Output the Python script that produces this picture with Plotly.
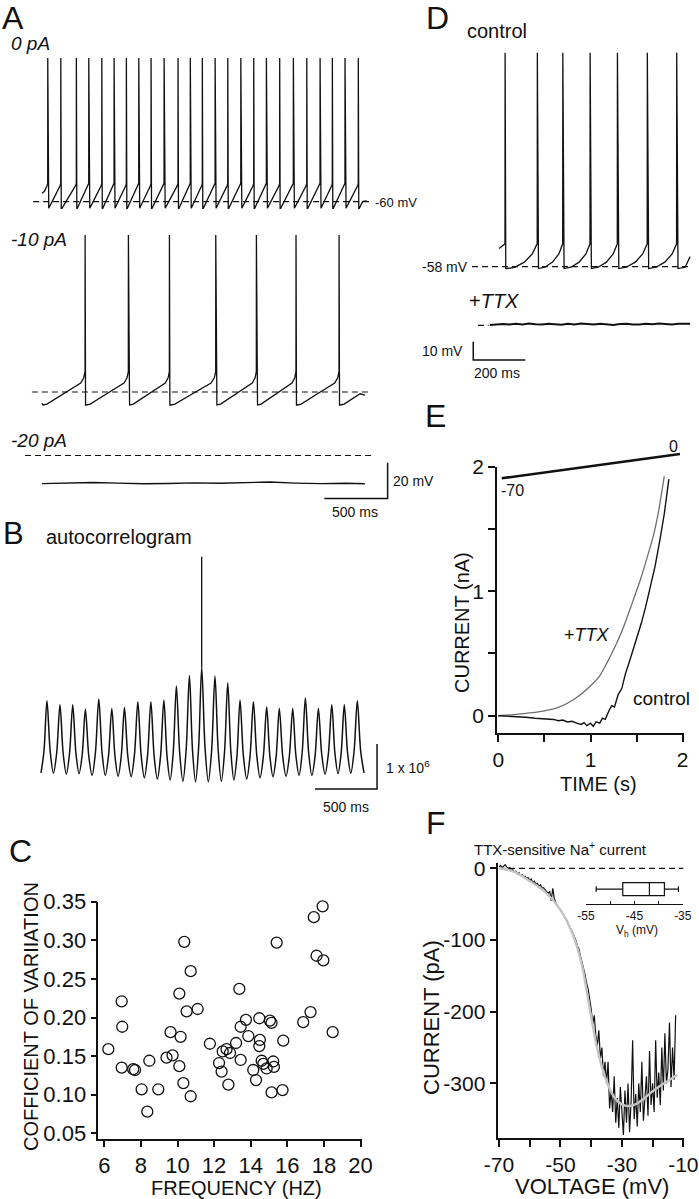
import plotly.graph_objects as go

W, H = 699, 1199
FONT = "Liberation Sans, Arial, sans-serif"
INK = "#111111"

# ------------------------------------------------------------------ data
A0_SPIKES = [45, 148, 271, 369, 472, 569, 666, 764, 861, 964, 1074, 1171, 1266,
             1367, 1467, 1570, 1672, 1772, 1877, 1985, 2091, 2196, 2293, 2393, 2498]
A0_START = (0, -55.3)
A0_END = (2565, -59.5)
A0_LEVELS = dict(thr=-49.7, peak=20.7, trough=-63.7)
A0_RAMP_FRAC = [0.08, 0.35, 0.75, 0.95]
A0_RAMP_V = [-63.7, -59.8, -54.2, -51.0]
A0_DASH_T = [-70, 2590]

A10_SPIKES = [340, 682, 1006, 1372, 1693, 2006, 2346]
A10_START = (0, -66.3)
A10_END = (2550, -61.7)
A10_LEVELS = dict(thr=-48.6, peak=28.2, trough=-67.3)
A10_RAMP_FRAC = [0.03, 0.12, 0.5, 0.9, 0.97]
A10_RAMP_V = [-67.3, -66.8, -61.0, -55.0, -52.0]
A10_DASH_T = [-80, 2590]

A20_T = [0, 200, 400, 600, 800, 1000, 1200, 1400, 1600, 1800, 2000, 2200, 2400, 2550]
A20_V = [-75.8, -75.6, -75.2, -75.5, -75.9, -75.7, -75.4, -75.6, -75.3, -74.9,
         -75.5, -75.8, -75.6, -75.9]
A20_DASH_T = [-134, 2630]
REST_MV = -60
A_BAR_MS, A_BAR_MV = 500, 20

B_PEAK_LAG = [-1248, -1143, -1040, -938, -830, -725, -623, -515, -410, -305, -204, -99, 0,
              107, 210, 309, 417, 524, 626, 734, 836, 941, 1049, 1150, 1255]
B_PEAK_H = [1.96, 1.87, 1.87, 1.77, 2.00, 1.79, 1.81, 1.94, 1.94, 1.98, 2.29, 2.52, 2.70,
            2.51, 2.36, 1.98, 1.94, 1.82, 1.79, 1.79, 2.02, 1.79, 1.87, 1.87, 1.96]
B_TROUGH = [0.36, 0.35, 0.33, 0.34, 0.30, 0.30, 0.28, 0.27, 0.25, 0.22, 0.20, 0.17, 0.16,
            0.16, 0.17, 0.20, 0.22, 0.25, 0.27, 0.28, 0.30, 0.30, 0.33, 0.34, 0.35, 0.36]
B_START_LAG, B_END_LAG = -1296, 1309
B_CENTER_SPIKE = 5.16
B_FLANK_FRAC = 0.30
B_BAR_MS, B_BAR_COUNT = 500, 1

C_FREQ = [6.22, 6.95, 6.98, 6.95, 7.58, 7.68, 8.04, 8.46, 8.35, 8.95, 9.40, 9.62, 9.73,
          10.10, 10.17, 10.10, 10.37, 10.50, 10.32, 10.72, 10.72, 11.10, 11.77, 12.27,
          12.41, 12.47, 12.68, 12.78, 12.87, 13.20, 13.38, 13.45, 13.45, 13.74, 13.87,
          14.14, 14.29, 14.47, 14.50, 14.47, 14.60, 14.69, 14.87, 15.05, 15.14, 15.23,
          15.27, 15.14, 15.42, 15.78, 15.74, 16.87, 17.27, 17.45, 17.93, 17.60, 17.97, 18.48]
C_CV = [0.159, 0.221, 0.188, 0.135, 0.133, 0.132, 0.107, 0.144, 0.078, 0.107, 0.148, 0.181,
        0.151, 0.231, 0.175, 0.137, 0.298, 0.208, 0.115, 0.260, 0.098, 0.211, 0.166, 0.141,
        0.130, 0.156, 0.159, 0.113, 0.154, 0.167, 0.237, 0.188, 0.145, 0.197, 0.176, 0.132,
        0.119, 0.199, 0.171, 0.163, 0.144, 0.140, 0.134, 0.196, 0.193, 0.143, 0.136, 0.103,
        0.297, 0.170, 0.106, 0.194, 0.207, 0.330, 0.344, 0.280, 0.274, 0.181]

D_SPIKES = [23, 147, 245, 350, 455, 570, 683]
D_START = (0, -48.0)
D_END = (735, -52.5)
D_LEVELS = dict(thr=-45.5, peak=58.9, trough=-59.0)
D_RAMP_FRAC = [0.05, 0.3, 0.6, 0.85, 0.97]
D_RAMP_V = [-59.0, -58.3, -55.5, -51.0, -46.5]
D_DASH_T = [-104, 735]
D_REST_MV = -58
D_TTX_T = [-35, -10, 15, 40, 65, 90, 115, 140, 165, 190, 215, 240, 265, 290, 315, 340,
           365, 390, 415, 440, 465, 490, 515, 540, 565, 590, 615, 640, 665, 690, 715, 735]
D_TTX_V = [-57.8, -57.5, -57.3, -57.6, -57.2, -57.5, -57.0, -57.4, -57.6, -57.1, -57.3,
           -57.7, -57.2, -57.5, -57.0, -57.3, -57.6, -57.2, -57.4, -57.8, -57.3, -57.1,
           -57.5, -57.6, -57.2, -57.4, -57.0, -57.3, -57.6, -57.1, -57.3, -57.2]
D_TTX_DASH_T = [-81, -40]
D_BAR_MS, D_BAR_MV = 200, 10

E_RAMP_T = [0.037, 1.97]
E_RAMP_MV = [-70, 0]
E_T_CTL = [0, 0.1, 0.2, 0.3, 0.4, 0.5, 0.6, 0.65, 0.7, 0.75, 0.8, 0.85, 0.9, 0.93, 0.96,
           1.0, 1.03, 1.06, 1.1, 1.13, 1.16, 1.2, 1.23, 1.26, 1.3, 1.34, 1.38, 1.42, 1.46,
           1.5, 1.55, 1.6, 1.65, 1.7, 1.75, 1.8, 1.85]
E_I_CTL = [0, -0.003, -0.008, -0.012, -0.02, -0.025, -0.03, -0.04, -0.035, -0.05, -0.045,
           -0.06, -0.07, -0.055, -0.08, -0.06, -0.085, -0.05, -0.06, -0.02, -0.03, 0.04,
           0.08, 0.07, 0.17, 0.22, 0.34, 0.43, 0.52, 0.61, 0.74, 0.88, 1.03, 1.2, 1.4,
           1.62, 1.9]
E_T_TTX = [0, 0.2, 0.45, 0.63, 0.81, 0.99, 1.1, 1.175, 1.27, 1.36, 1.45, 1.54, 1.61,
           1.68, 1.74, 1.8]
E_I_TTX = [0, 0.01, 0.032, 0.06, 0.126, 0.233, 0.32, 0.42, 0.56, 0.715, 0.9, 1.09, 1.26,
           1.44, 1.65, 1.925]

F_V_START, F_V_STEP = -70.0, 0.5
F_I = [2, 4, 1, 3, 5, 2, 0, 1, -3, -2,
       -5, -4, -8, -6, -10, -9, -12, -11, -14, -13,
       -17, -15, -20, -18, -22, -21, -25, -23, -28, -27,
       -30, -33, -35, -32, -45, -28, -42, -48, -52, -55,
       -58, -62, -65, -70, -72, -78, -82, -85, -90, -96,
       -100, -108, -112, -122, -130, -140, -148, -160, -168, -182,
       -196, -218, -205, -232, -248, -226, -265, -250, -290, -270,
       -300, -270, -335, -310, -340, -290, -355, -320, -362, -305,
       -340, -372, -310, -355, -300, -368, -325, -240, -350, -315,
       -360, -300, -340, -270, -352, -318, -290, -345, -255, -330,
       -300, -340, -240, -320, -285, -330, -250, -310, -230, -300,
       -280, -215, -305, -250, -295, -205]
F_FIT_V = [-70, -65, -60, -55, -50, -46, -43, -40.5, -38, -35, -32, -29, -26, -23, -20,
           -17, -14, -12]
F_FIT_I = [0, -5, -18, -33, -58, -92, -135, -195, -252, -297, -322, -331, -330, -322,
           -311, -302, -294, -288]
F_ZERO_V = [-70, -10]
VH_STATS = dict(lowerfence=-52.9, q1=-47.4, median=-41.9, q3=-38.8, upperfence=-35.9)

# tick labels
C_XTICKS = [6, 8, 10, 12, 14, 16, 18, 20]
C_YTICKS = [0.05, 0.10, 0.15, 0.20, 0.25, 0.30, 0.35]
E_TICKS, E_MINOR = [0, 1, 2], [0.5, 1.5]
F_XTICKS, F_XMINOR = [-70, -50, -30, -10], [-60, -40, -20]
F_YTICKS = [0, -100, -200, -300]
VH_TICKS, VH_MINOR = [-55, -45, -35], [-50, -40]

# ------------------------------------------------------------------ helpers
def xdom(p0, p1):
    return [p0 / W, p1 / W]


def ydom(top, bot):
    return [1 - bot / H, 1 - top / H]


def xrange_(p0, p1, ref_px, ref_val, ppu):
    return [ref_val + (p0 - ref_px) / ppu, ref_val + (p1 - ref_px) / ppu]


def yrange_(top, bot, ref_px, ref_val, ppu):
    return [ref_val - (bot - ref_px) / ppu, ref_val + (ref_px - top) / ppu]


def spike_train(start, end, spikes, lv, ramp_frac, ramp_v, trough_dt=4, prefix=True):
    isis = [b - a for a, b in zip(spikes[:-1], spikes[1:])]
    mean_isi = sum(isis) / len(isis)
    t, v = [start[0]], [start[1]]
    if prefix:
        for f, rv in zip(ramp_frac, ramp_v):
            tt = spikes[0] - (1 - f) * isis[0]
            if tt > start[0] + 2:
                t.append(tt)
                v.append(rv)
    for i, s in enumerate(spikes):
        t += [s, s + 0.5, s + trough_dt]
        v += [lv["thr"], lv["peak"], lv["trough"]]
        isi = isis[i] if i < len(isis) else mean_isi
        for f, rv in zip(ramp_frac, ramp_v):
            tt = s + f * isi
            if i == len(spikes) - 1 and tt >= end[0]:
                break
            t.append(tt)
            v.append(rv)
    t.append(end[0])
    v.append(end[1])
    return t, v


fig = go.Figure()
axes = {}


def add_axes(n, xd, yd, xr, yr, visible=False):
    xs = "xaxis" if n == 1 else f"xaxis{n}"
    ys = "yaxis" if n == 1 else f"yaxis{n}"
    base = dict(showgrid=False, zeroline=False, fixedrange=True, automargin=False)
    xa = dict(base, domain=xd, range=xr, anchor="y" if n == 1 else f"y{n}", visible=visible)
    ya = dict(base, domain=yd, range=yr, anchor="x" if n == 1 else f"x{n}", visible=visible)
    axes[xs] = xa
    axes[ys] = ya
    return ("x" if n == 1 else f"x{n}", "y" if n == 1 else f"y{n}")


def line(ax, x, y, width=1.3, color=INK, dash=None, shape="linear", smoothing=1):
    fig.add_trace(go.Scatter(x=x, y=y, mode="lines", xaxis=ax[0], yaxis=ax[1],
                             line=dict(color=color, width=width, dash=dash, shape=shape,
                                       smoothing=smoothing),
                             hoverinfo="skip", showlegend=False))


DASH = "6px,4px"

# ------------------------------------------------------------------ panel A
A_PPU_X, A_REF_X = 0.1266, 42
A_PPU_Y = 1.78
ax_a0 = add_axes(1, xdom(15, 400), ydom(45, 215), xrange_(15, 400, A_REF_X, 0, A_PPU_X),
                 yrange_(45, 215, 201.7, REST_MV, A_PPU_Y))
ax_a1 = add_axes(2, xdom(15, 400), ydom(225, 415), xrange_(15, 400, A_REF_X, 0, A_PPU_X),
                 yrange_(225, 415, 392, REST_MV, A_PPU_Y))
ax_a2 = add_axes(3, xdom(15, 400), ydom(445, 520), xrange_(15, 400, A_REF_X, 0, A_PPU_X),
                 yrange_(445, 520, 455.5, REST_MV, A_PPU_Y))

line(ax_a0, A0_DASH_T, [REST_MV, REST_MV], width=1.2, dash=DASH)
t, v = spike_train(A0_START, A0_END, A0_SPIKES, A0_LEVELS, A0_RAMP_FRAC, A0_RAMP_V)
line(ax_a0, t, v)
line(ax_a1, A10_DASH_T, [REST_MV, REST_MV], width=1.2, dash=DASH)
t, v = spike_train(A10_START, A10_END, A10_SPIKES, A10_LEVELS, A10_RAMP_FRAC, A10_RAMP_V)
line(ax_a1, t, v)
line(ax_a2, A20_DASH_T, [REST_MV, REST_MV], width=1.2, dash=DASH)
line(ax_a2, A20_T, A20_V, width=1.4)
A_BAR_T1, A_BAR_V0 = 2730, -84.1
line(ax_a2, [A_BAR_T1 - A_BAR_MS, A_BAR_T1, A_BAR_T1],
     [A_BAR_V0, A_BAR_V0, A_BAR_V0 + A_BAR_MV], width=1.5)

# ------------------------------------------------------------------ panel B
ax_b = add_axes(4, xdom(35, 400), ydom(545, 815),
                xrange_(35, 400, 201.7, 0, 0.124), yrange_(545, 815, 789, 0, 45))
bx, by = [B_START_LAG], [B_TROUGH[0]]
prev_lag, prev_tr = B_START_LAG, B_TROUGH[0]
for i, (lag, h) in enumerate(zip(B_PEAK_LAG, B_PEAK_H)):
    bx.append((prev_lag + lag) / 2)
    by.append(prev_tr + B_FLANK_FRAC * (h - prev_tr))
    bx.append(lag)
    by.append(h)
    nxt_lag = (lag + B_PEAK_LAG[i + 1]) / 2 if i < len(B_PEAK_LAG) - 1 else B_END_LAG
    nxt_tr = B_TROUGH[i + 1]
    bx.append((lag + nxt_lag) / 2)
    by.append(nxt_tr + B_FLANK_FRAC * (h - nxt_tr))
    bx.append(nxt_lag)
    by.append(nxt_tr)
    prev_lag, prev_tr = nxt_lag, nxt_tr
line(ax_b, bx, by, width=1.5, shape="spline", smoothing=0.9)
line(ax_b, [0, 0], [B_PEAK_H[12], B_CENTER_SPIKE], width=1.3)
B_BAR_T1, B_BAR_V0 = 1414, 0
line(ax_b, [B_BAR_T1 - B_BAR_MS, B_BAR_T1, B_BAR_T1],
     [B_BAR_V0, B_BAR_V0, B_BAR_V0 + B_BAR_COUNT], width=1.5)

# ------------------------------------------------------------------ panel C
ax_c = add_axes(5, xdom(98.3, 362), ydom(901.7, 1139.3),
                xrange_(98.3, 362, 104.3, 6, 18.3), yrange_(901.7, 1139.3, 901.7, 0.35, 772),
                visible=True)
fig.add_trace(go.Scatter(x=C_FREQ, y=C_CV, mode="markers", xaxis=ax_c[0], yaxis=ax_c[1],
                         marker=dict(symbol="circle-open", size=11, color=INK,
                                     line=dict(width=1.3, color=INK)),
                         hoverinfo="skip", showlegend=False, cliponaxis=False))

# ------------------------------------------------------------------ panel D
D_PPU_X, D_REF_X, D_PPU_Y = 0.26, 499, 1.83
ax_d1 = add_axes(6, xdom(465, 699), ydom(40, 280), xrange_(465, 699, D_REF_X, 0, D_PPU_X),
                 yrange_(40, 280, 266.7, D_REST_MV, D_PPU_Y))
ax_d2 = add_axes(7, xdom(465, 699), ydom(290, 400), xrange_(465, 699, D_REF_X, 0, D_PPU_X),
                 yrange_(290, 400, 325.3, D_REST_MV, D_PPU_Y))
line(ax_d1, D_DASH_T, [D_REST_MV, D_REST_MV], width=1.3, dash=DASH)
t, v = spike_train(D_START, D_END, D_SPIKES, D_LEVELS, D_RAMP_FRAC, D_RAMP_V,
                   trough_dt=3, prefix=False)
line(ax_d1, t, v)
line(ax_d2, D_TTX_DASH_T, [D_REST_MV, D_REST_MV], width=1.3, dash=DASH)
line(ax_d2, D_TTX_T, D_TTX_V, width=2.0)
D_BAR_T0, D_BAR_V0 = -99, -77
line(ax_d2, [D_BAR_T0, D_BAR_T0, D_BAR_T0 + D_BAR_MS],
     [D_BAR_V0 + D_BAR_MV, D_BAR_V0, D_BAR_V0], width=1.5)

# ------------------------------------------------------------------ panel E
E_X0, E_X1 = 497, 684
ax_er = add_axes(8, xdom(E_X0, E_X1), ydom(440, 490), xrange_(E_X0, E_X1, 498.3, 0, 92.2),
                 yrange_(440, 490, 478.3, -70, 0.347))
line(ax_er, E_RAMP_T, E_RAMP_MV, width=2.6)
ax_e = add_axes(9, xdom(E_X0, E_X1), ydom(466.7, 733.3), xrange_(E_X0, E_X1, 498.3, 0, 92.2),
                yrange_(466.7, 733.3, 715.7, 0, 124.5), visible=True)
line(ax_e, E_T_TTX, E_I_TTX, width=1.3, color="#6e6e6e", shape="spline", smoothing=0.6)
line(ax_e, E_T_CTL, E_I_CTL, width=1.4)

# ------------------------------------------------------------------ panel F
ax_f = add_axes(10, xdom(498.3, 684), ydom(862.6, 1138.3),
                xrange_(498.3, 684, 499, -70, 3.072), yrange_(862.6, 1138.3, 868.3, 0, 0.717),
                visible=True)
F_V = [F_V_START + F_V_STEP * i for i in range(len(F_I))]
line(ax_f, F_ZERO_V, [0, 0], width=1.3, dash=DASH)
line(ax_f, F_V, F_I, width=1.2)
line(ax_f, F_FIT_V, F_FIT_I, width=2.4, color="#c4c4c4", shape="spline", smoothing=0.8)

ax_fi = add_axes(11, xdom(586, 683), ydom(874, 904.3),
                 xrange_(586, 683, 586, -55, 4.84), [-1, 1], visible=True)
fig.add_trace(go.Box(y=[0], orientation="h", xaxis=ax_fi[0], yaxis=ax_fi[1],
                     lowerfence=[VH_STATS["lowerfence"]], q1=[VH_STATS["q1"]],
                     median=[VH_STATS["median"]], q3=[VH_STATS["q3"]],
                     upperfence=[VH_STATS["upperfence"]],
                     width=0.85, whiskerwidth=0.45, fillcolor="white",
                     line=dict(color=INK, width=1.2), hoverinfo="skip", showlegend=False))


def style(name, size, tickvals, fmt="{:g}", minor_vals=None, ticklen=6, ticks="outside",
          lw=1.5):
    axes[name].update(showline=True, linecolor=INK, linewidth=lw, ticks=ticks,
                      ticklen=ticklen, tickwidth=lw, tickcolor=INK,
                      tickmode="array", tickvals=tickvals,
                      ticktext=[fmt.format(v) for v in tickvals],
                      tickfont=dict(family=FONT, size=size, color=INK))
    if minor_vals:
        axes[name]["minor"] = dict(tickmode="array", tickvals=minor_vals, ticks=ticks,
                                   ticklen=ticklen, tickwidth=lw, tickcolor=INK,
                                   showgrid=False)


style("xaxis5", 22, C_XTICKS)
style("yaxis5", 22, C_YTICKS, fmt="{:.2f}")
style("xaxis9", 21, E_TICKS, minor_vals=E_MINOR, ticklen=7)
style("yaxis9", 21, E_TICKS, minor_vals=E_MINOR, ticklen=7)
style("xaxis10", 21, F_XTICKS, minor_vals=F_XMINOR, ticklen=7)
style("yaxis10", 21, F_YTICKS, ticklen=7)
style("xaxis11", 12, VH_TICKS, minor_vals=VH_MINOR, ticklen=3, ticks="inside", lw=1.2)
axes["yaxis11"].update(visible=False)

annotations = []


def ann(text, x, y, size, xanchor="left", angle=0):
    annotations.append(dict(text=text, x=x / W, y=1 - y / H, xref="paper", yref="paper",
                            xanchor=xanchor, yanchor="middle", showarrow=False,
                            textangle=angle,
                            font=dict(family=FONT, size=size, color=INK)))


ann("A", 0, 18, 32)
ann("<i>0 pA</i>", 9, 43, 19)
ann("<i>-10 pA</i>", 9, 240, 19)
ann("<i>-20 pA</i>", 9, 440, 19)
ann("-60 mV", 373, 202, 13)
ann("20 mV", 391, 481, 14)
ann("500 ms", 355, 512, 14, xanchor="center")
ann("B", 1, 533, 31)
ann("autocorrelogram", 44, 537, 20)
ann("1 x 10<sup>6</sup>", 384, 767, 14)
ann("500 ms", 346, 807, 14, xanchor="center")
ann("C", 7, 851, 32)
ann("COFFICIENT OF VARIIATION", 31, 1017, 20, xanchor="center", angle=-90)
ann("FREQUENCY (HZ)", 236, 1188, 20, xanchor="center")
ann("D", 424, 18, 32)
ann("control", 465, 31, 20)
ann("-58 mV", 470, 267, 14, xanchor="right")
ann("+<i>TTX</i>", 467, 301, 20)
ann("10 mV", 465, 351, 14, xanchor="right")
ann("200 ms", 472, 373, 14)
ann("E", 423, 416, 32)
ann("0", 673, 446, 16, xanchor="center")
ann("-70", 499, 490, 16)
ann("+<i>TTX</i>", 562, 635, 18)
ann("control", 631, 698, 19)
ann("CURRENT (nA)", 462, 623, 20, xanchor="center", angle=-90)
ann("TIME (s)", 598, 784, 20, xanchor="center")
ann("F", 424, 823, 32)
ann("TTX-sensitive Na<sup>+</sup> current", 472, 848, 15)
ann("V<sub>h</sub> (mV)", 637, 931, 12, xanchor="center")
ann("CURRENT (pA)", 431, 1018, 22, xanchor="center", angle=-90)
ann("VOLTAGE (mV)", 592, 1186, 22, xanchor="center")

fig.update_layout(width=W, height=H, autosize=False, margin=dict(l=0, r=0, t=0, b=0, pad=0),
                  paper_bgcolor="white", plot_bgcolor="rgba(0,0,0,0)", showlegend=False,
                  font=dict(family=FONT, color=INK), annotations=annotations, **axes)

fig.write_html("out.html", config={"displayModeBar": False, "responsive": False},
               post_script="document.body.style.margin='0';document.body.style.overflow='hidden';")
